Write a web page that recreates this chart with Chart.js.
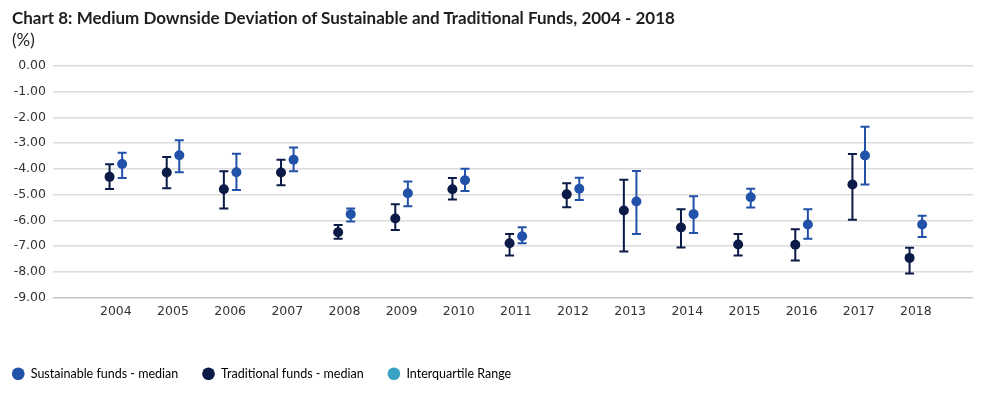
<!DOCTYPE html>
<html>
<head>
<meta charset="utf-8">
<script src="https://cdn.jsdelivr.net/npm/chart.js@4.4.0/dist/chart.umd.min.js"></script>
<style>
  html, body { margin: 0; padding: 0; background: #fff; }
  #wrap { position: relative; width: 998px; height: 398px; }
  .head { position: absolute; left: 12px; color: #1e1e1e; font-family: Lato, sans-serif; font-size: 17px; white-space: nowrap; }
  #title { top: 7px; font-weight: bold; }
  #unit { top: 29px; }
</style>
</head>
<body>
<div id="wrap">
  <canvas id="chart"></canvas>
  <div class="head" id="title">Chart 8: Medium Downside Deviation of Sustainable and Traditional Funds, 2004 - 2018</div>
  <div class="head" id="unit">(%)</div>
</div>
<script>
const years = [2004, 2005, 2006, 2007, 2008, 2009, 2010, 2011, 2012, 2013, 2014, 2015, 2016, 2017, 2018];

// sustainable funds: median and interquartile range
const sustainableMedian = [-3.81, -3.47, -4.13, -3.64, -5.76, -4.95, -4.44, -6.62, -4.77, -5.27, -5.76, -5.10, -6.16, -3.48, -6.16];
const sustainableHigh   = [-3.37, -2.89, -3.41, -3.17, -5.54, -4.49, -3.99, -6.27, -4.34, -4.08, -5.06, -4.77, -5.57, -2.36, -5.82];
const sustainableLow    = [-4.35, -4.13, -4.82, -4.09, -6.05, -5.45, -4.86, -6.89, -5.21, -6.53, -6.49, -5.50, -6.72, -4.61, -6.65];

// traditional funds: median and interquartile range
const traditionalMedian = [-4.31, -4.14, -4.79, -4.14, -6.46, -5.93, -4.79, -6.89, -4.99, -5.62, -6.28, -6.94, -6.95, -4.61, -7.46];
const traditionalHigh   = [-3.82, -3.54, -4.09, -3.64, -6.18, -5.37, -4.35, -6.53, -4.56, -4.42, -5.57, -6.53, -6.35, -3.42, -7.07];
const traditionalLow    = [-4.78, -4.75, -5.54, -4.64, -6.72, -6.38, -5.19, -7.37, -5.49, -7.21, -7.06, -7.37, -7.56, -5.98, -8.07];

const legendLabels = ["Sustainable funds - median", "Traditional funds - median", "Interquartile Range"];

const blue = '#2151a9';
const navy = '#0c1a47';
const teal = '#3aa2c2';
const shift = 0.11; // horizontal offset of the two series within a year

function points(values, dx) {
  return values.map((v, i) => ({ x: years[i] + dx, y: v }));
}

// draws the interquartile whiskers with caps, under the points
const errorBars = {
  id: 'errorBars',
  beforeDatasetsDraw(chart) {
    const ctx = chart.ctx;
    const xs = chart.scales.x, ys = chart.scales.y;
    chart.data.datasets.forEach((ds) => {
      ctx.save();
      ctx.strokeStyle = ds.borderColor;
      ctx.lineWidth = 2;
      ds.data.forEach((p, i) => {
        const x = xs.getPixelForValue(p.x);
        const top = ys.getPixelForValue(ds.high[i]);
        const bot = ys.getPixelForValue(ds.low[i]);
        ctx.beginPath();
        ctx.moveTo(x, top); ctx.lineTo(x, bot);
        ctx.moveTo(x - 4.5, top); ctx.lineTo(x + 4.5, top);
        ctx.moveTo(x - 4.5, bot); ctx.lineTo(x + 4.5, bot);
        ctx.stroke();
      });
      ctx.restore();
    });
  }
};

new Chart(document.getElementById('chart'), {
  type: 'scatter',
  data: {
    datasets: [
      {
        label: legendLabels[0],
        data: points(sustainableMedian, shift),
        high: sustainableHigh,
        low: sustainableLow,
        backgroundColor: blue,
        borderColor: blue,
        pointRadius: 5,
        pointBorderWidth: 0
      },
      {
        label: legendLabels[1],
        data: points(traditionalMedian, -shift),
        high: traditionalHigh,
        low: traditionalLow,
        backgroundColor: navy,
        borderColor: navy,
        pointRadius: 5,
        pointBorderWidth: 0
      }
    ]
  },
  options: {
    responsive: true,
    maintainAspectRatio: false,
    animation: false,
    layout: { padding: { left: -12, right: 25, top: 66, bottom: 8 } },
    plugins: {
      legend: {
        position: 'bottom',
        align: 'start',
        labels: {
          usePointStyle: true,
          boxHeight: 9,
          padding: 24,
          color: '#444',
          font: { family: 'Lato', size: 12.5 },
          generateLabels: () => [blue, navy, teal].map((c, i) => ({
            text: legendLabels[i],
            fillStyle: c,
            strokeStyle: c,
            lineWidth: 0,
            pointStyle: 'circle',
            datasetIndex: i
          }))
        }
      },
      tooltip: { enabled: false }
    },
    scales: {
      x: {
        type: 'linear',
        min: 2002.9,
        max: 2019,
        afterBuildTicks: (scale) => { scale.ticks = years.map(v => ({ value: v })); },
        afterFit: (scale) => { scale.height = 46; },
        grid: { display: false, drawTicks: false },
        border: { display: false },
        ticks: {
          padding: 7,
          color: '#333',
          font: { family: 'DejaVu Sans', size: 12.5 },
          callback: (v) => String(v)
        }
      },
      y: {
        min: -9,
        max: 0,
        afterFit: (scale) => { scale.width = 65; },
        grid: {
          color: (c) => c.tick && c.tick.value === -9 ? '#c4c4c4' : '#dcdcdc',
          lineWidth: 1.5,
          drawTicks: false
        },
        border: { display: false },
        ticks: {
          stepSize: 1,
          padding: 7,
          color: '#333',
          font: { family: 'DejaVu Sans', size: 12.5 },
          callback: (v) => v.toFixed(2)
        }
      }
    }
  },
  plugins: [errorBars]
});
</script>
</body>
</html>
